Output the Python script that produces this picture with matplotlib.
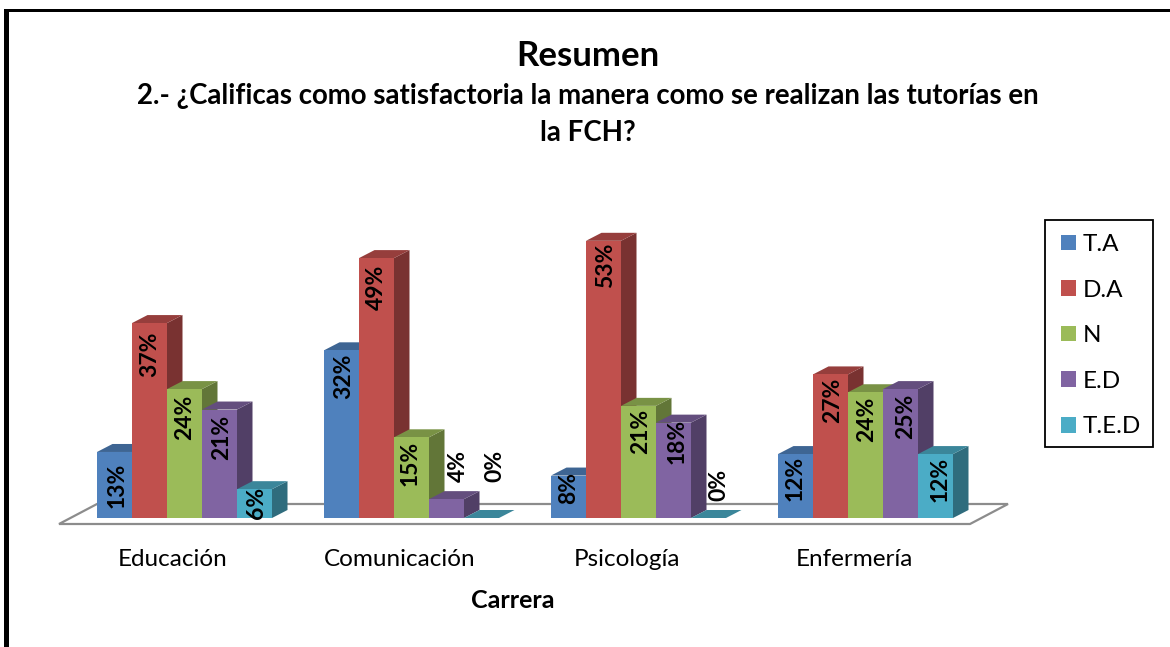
import matplotlib
matplotlib.use("Agg")
import matplotlib.pyplot as plt
from matplotlib.patches import Polygon, Patch, Rectangle
from matplotlib.colors import to_rgb

plt.rcParams['font.family'] = ['Lato', 'DejaVu Sans']

categories = ['Educación', 'Comunicación', 'Psicología', 'Enfermería']
series_names = ['T.A', 'D.A', 'N', 'E.D', 'T.E.D']
ta = [12.6, 32.0, 8.1, 12.2]
da = [37.2, 49.6, 52.9, 27.4]
n = [24.6, 15.4, 21.4, 24.0]
ed = [20.7, 3.6, 18.2, 24.6]
ted = [5.5, 0.0, 0.0, 12.2]
ta_labels = ['13%', '32%', '8%', '12%']
da_labels = ['37%', '49%', '53%', '27%']
n_labels = ['24%', '15%', '21%', '24%']
ed_labels = ['21%', '4%', '18%', '25%']
ted_labels = ['6%', '0%', '0%', '12%']
title = 'Resumen'
subtitle_lines = ['2.- ¿Calificas como satisfactoria la manera como se realizan las tutorías en', 'la FCH?']
xlabel = 'Carrera'

colors = ['#4F81BD', '#C0504D', '#9BBB59', '#8064A2', '#4BACC6']
all_values = [ta, da, n, ed, ted]
all_labels = [ta_labels, da_labels, n_labels, ed_labels, ted_labels]
# pixel nudges of each label: top edge below the bar top, and sideways from the bar centre
label_drop = [[11, 3, -3.5, 2], [9, 7, 2, 3], [6, 3.5, 3, 5], [5.5, -49, -4, 5], [-2, -68, -49, 3]]
label_shift = [[2.5, 2, 0, 0], [0, 0, 2.5, 2.5], [0.5, -1, 2.5, 1.5], [2.5, 12, 3.5, 5.5], [2.5, 13, 10.5, 4.5]]

W, H, DPI = 1170, 647, 100
fig = plt.figure(figsize=(W / DPI, H / DPI), dpi=DPI, facecolor='white')

PITCH, BAR_PX, YSCALE = 227.0, 35.0, 5.24
X0, Y0 = 184.5, 518.0
L, R, B, T = 59.0, 1008.0, 524.0, 200.0
ax = fig.add_axes([L / W, 1 - B / H, (R - L) / W, (B - T) / H])
ax.set_xlim((L - X0) / PITCH, (R - X0) / PITCH)
ax.set_ylim((Y0 - B) / YSCALE, (Y0 - T) / YSCALE)
ax.patch.set_visible(False)
for s in ax.spines.values():
    s.set_visible(False)

bw = BAR_PX / PITCH
dx, dy = 15.5 / PITCH, 8.0 / YSCALE

# floor
xmin, xmax = ax.get_xlim()
ymin = ax.get_ylim()[0]
fdx, fdy = 38.0 / PITCH, 20.0 / YSCALE
ax.add_patch(Polygon([(xmin, ymin), (xmax - fdx, ymin), (xmax, ymin + fdy), (xmin + fdx, ymin + fdy)],
                     closed=True, fc='white', ec='#8C8C8C', lw=1.6, clip_on=False, zorder=1, joinstyle='miter'))


def shade(c, f):
    return tuple(v * f for v in to_rgb(c))


z = 2
for i in range(len(categories)):
    for j, vals in enumerate(all_values):
        v = vals[i]
        x0 = i + (j - 2.5) * bw
        x1 = x0 + bw
        c = colors[j]
        if v > 0:
            ax.add_patch(Polygon([(x1, 0), (x1 + dx, dy), (x1 + dx, v + dy), (x1, v)], closed=True,
                                 fc=shade(c, 0.63), ec='none', zorder=z))
        ax.add_patch(Polygon([(x0, v), (x1, v), (x1 + dx, v + dy), (x0 + dx, v + dy)], closed=True,
                             fc=shade(c, 0.78), ec='none', zorder=z))
        if v > 0:
            ax.bar(x0, v, width=bw, align='edge', color=c, edgecolor='none', zorder=z)
        z += 1

for i in range(len(categories)):
    for j, vals in enumerate(all_values):
        xc = i + (j - 2) * bw
        ax.annotate(all_labels[j][i], xy=(xc, vals[i]),
                    xytext=(label_shift[j][i] * 0.72, -label_drop[j][i] * 0.72), textcoords='offset points',
                    rotation=90, ha='center', va='top', fontsize=16.5, fontweight='bold',
                    color='black', zorder=100, annotation_clip=False)

ax.set_yticks([])
ax.set_xticks([i - 11.5 / PITCH for i in range(len(categories))])
ax.set_xticklabels(categories, fontsize=17.5, color='black')
ax.tick_params(axis='x', length=0, pad=18)
ax.set_xlabel(xlabel, fontsize=18, fontweight='bold', labelpad=0)
ax.xaxis.set_label_coords((513 - L) / (R - L), -(600 - B) / (B - T), transform=ax.transAxes)
ax.xaxis.label.set_va('center')

fig.text(588 / W, 1 - 56 / H, title, ha='center', va='center', fontsize=25, fontweight='bold')
fig.text(588 / W, 1 - 96 / H, subtitle_lines[0], ha='center', va='center', fontsize=19.9, fontweight='bold')
fig.text(588 / W, 1 - 133 / H, subtitle_lines[1], ha='center', va='center', fontsize=19.9, fontweight='bold')

handles = [Patch(fc=c, ec='none') for c in colors]
leg = fig.legend(handles, series_names, loc='upper left', bbox_to_anchor=(1061 / W, 1 - 234 / H),
                 bbox_transform=fig.transFigure, fontsize=17.5, frameon=False,
                 handlelength=0.62, handleheight=0.62,
                 handletextpad=0.26, labelspacing=1.01, borderpad=0, borderaxespad=0)
fig.add_artist(Rectangle((1044.5 / W, 1 - 447 / H), 108.5 / W, 227 / H, transform=fig.transFigure,
                         fc='none', ec='black', lw=1.3))

# outer border
fig.add_artist(Rectangle((4 / W, 0), 5 / W, 1 - 9 / H, transform=fig.transFigure, fc='black', ec='none'))
fig.add_artist(Rectangle((4 / W, 1 - 12 / H), 1 - 4 / W, 3 / H, transform=fig.transFigure, fc='black', ec='none'))

fig.savefig('out.png', dpi=DPI, facecolor='white')
